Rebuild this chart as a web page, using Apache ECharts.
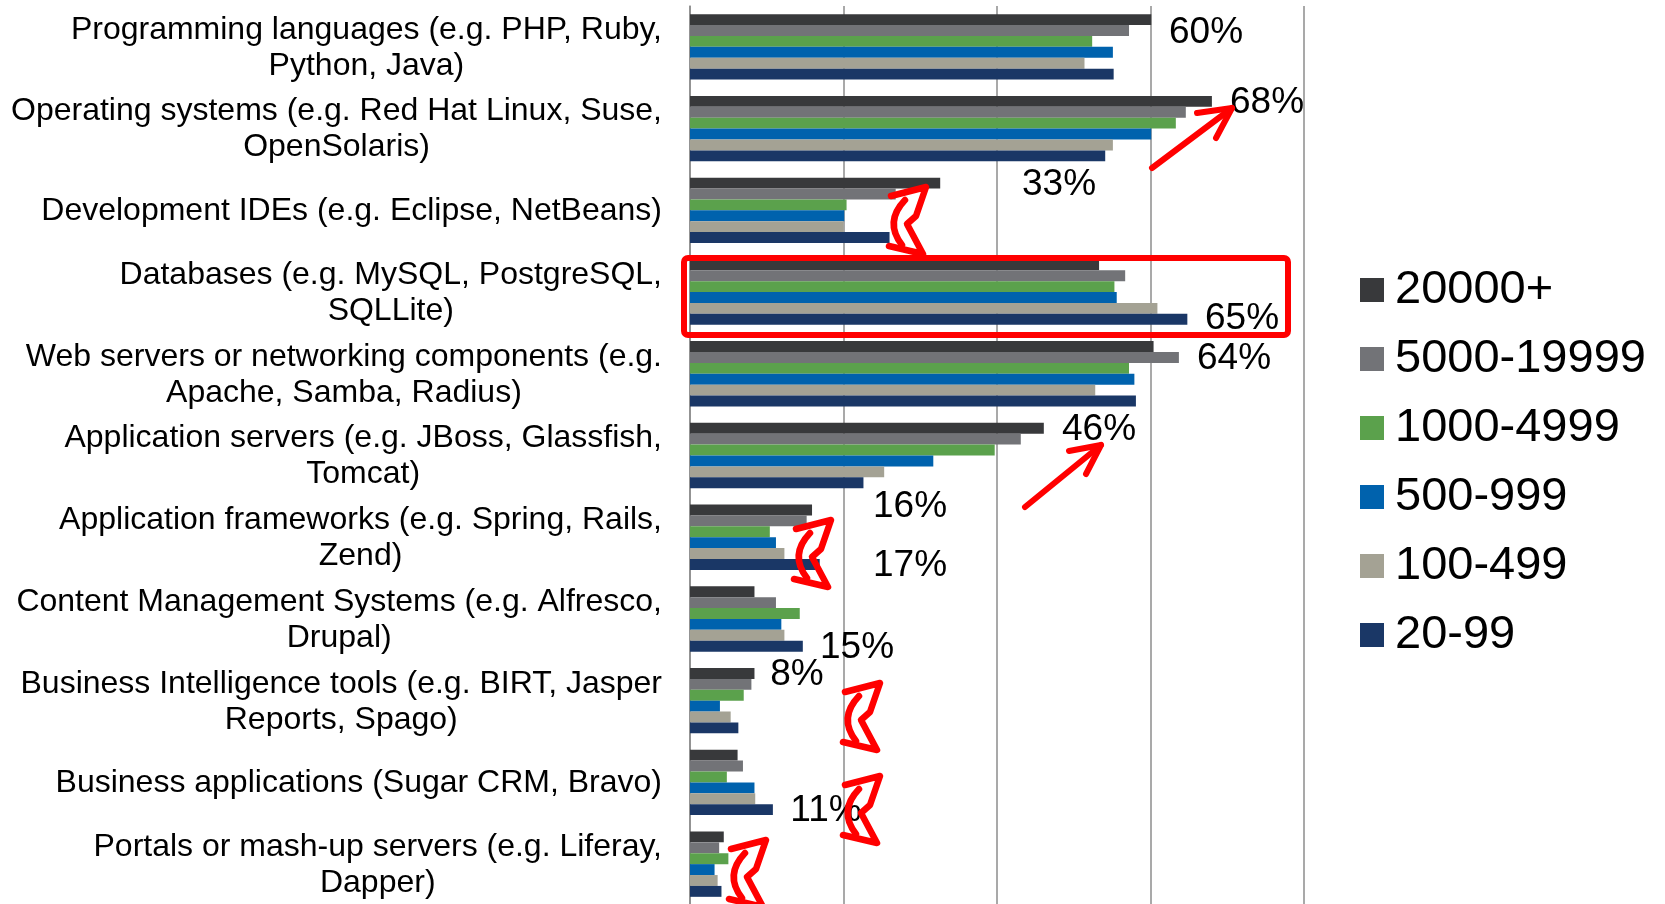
<!DOCTYPE html>
<html>
<head>
<meta charset="utf-8">
<script src="https://cdn.jsdelivr.net/npm/echarts@6/dist/echarts.min.js"></script>
<style>
  html, body { margin: 0; padding: 0; background: #fff; }
  #chart { width: 1665px; height: 904px; }
</style>
</head>
<body>
<div id="chart"></div>
<script>
// categories, top to bottom
const categories = [
  'Programming languages (e.g. PHP, Ruby,\nPython, Java)',
  'Operating systems (e.g. Red Hat Linux, Suse,\nOpenSolaris)',
  'Development IDEs (e.g. Eclipse, NetBeans)',
  'Databases (e.g. MySQL, PostgreSQL,\nSQLLite)',
  'Web servers or networking components (e.g.\nApache, Samba, Radius)',
  'Application servers (e.g. JBoss, Glassfish,\nTomcat)',
  'Application frameworks (e.g. Spring, Rails,\nZend)',
  'Content Management Systems (e.g. Alfresco,\nDrupal)',
  'Business Intelligence tools (e.g. BIRT, Jasper\nReports, Spago)',
  'Business applications (Sugar CRM, Bravo)',
  'Portals or mash-up servers (e.g. Liferay,\nDapper)'
]

const seriesNames = ['20000+', '5000-19999', '1000-4999', '500-999', '100-499', '20-99']
const seriesColors = ['#38393b', '#727377', '#5ba14c', '#0062ad', '#a4a294', '#1a3766']

// percent of respondents, per company size
const size20000 = [60.1, 68.0, 32.6, 53.3, 60.4, 46.1, 15.9, 8.4, 8.4, 6.2, 4.4]
const size5000 = [57.2, 64.6, 26.8, 56.7, 63.7, 43.1, 15.2, 11.2, 8.0, 6.9, 3.8]
const size1000 = [52.4, 63.3, 20.4, 55.3, 57.2, 39.7, 10.4, 14.3, 7.0, 4.8, 5.0]
const size500 = [55.1, 60.1, 20.1, 55.6, 57.9, 31.7, 11.2, 11.9, 3.9, 8.4, 3.2]
const size100 = [51.4, 55.1, 20.0, 60.9, 52.8, 25.3, 12.3, 12.3, 5.3, 8.5, 3.6]
const size20 = [55.2, 54.1, 26.0, 64.8, 58.1, 22.6, 16.9, 14.7, 6.3, 10.8, 4.1]
const seriesValues = [size20000, size5000, size1000, size500, size100, size20]

// hand-drawn callouts on the slide
const noteLabels = ['60%', '68%', '33%', '65%', '64%', '46%', '16%', '17%', '15%', '8%', '11%']
const notePos = [[1206, 33], [1267, 103], [1059, 185], [1242, 319], [1234, 359], [1099, 430],
  [910, 507], [910, 566], [857, 648], [797, 675], [826, 811]]
const curlyPos = [[876, 174], [781, 507], [830, 670], [830, 763], [716, 827]]
const RED = '#ff0000'
const FONT = '"Liberation Sans", Arial, sans-serif'

function straightArrow(tail, tip, armA, armB) {
  const style = { stroke: RED, lineWidth: 6, lineCap: 'round', lineJoin: 'round', fill: null }
  return [
    { type: 'line', z: 100, shape: { x1: tail[0], y1: tail[1], x2: tip[0], y2: tip[1] }, style },
    { type: 'polyline', z: 100, shape: { points: [armA, tip, armB] }, style }
  ]
}

function curlyArrow(pos) {
  const style = { stroke: RED, lineWidth: 6.5, lineCap: 'round', lineJoin: 'round', fill: null }
  return {
    type: 'group', x: pos[0], y: pos[1], z: 100,
    children: [
      { type: 'polyline', z: 100, shape: { points: [[15, 22], [50, 13], [40, 42], [31, 50], [47, 80], [13, 72]] }, style },
      { type: 'bezierCurve', z: 100, shape: { x1: 29, y1: 26, cpx1: 8, cpy1: 48, x2: 26, y2: 71 }, style }
    ]
  }
}

function buildGraphics() {
  const items = []
  noteLabels.forEach((t, i) => {
    items.push({
      type: 'text', z: 100, x: notePos[i][0], y: notePos[i][1],
      style: { text: t, font: '37px ' + FONT, fill: '#000', align: 'center', verticalAlign: 'middle' }
    })
  })
  items.push({
    type: 'rect', z: 101,
    shape: { x: 684, y: 258, width: 604, height: 77, r: 4 },
    style: { fill: null, stroke: RED, lineWidth: 6 }
  })
  items.push(...straightArrow([1152, 168], [1232, 108], [1197, 113], [1216, 138]))
  items.push(...straightArrow([1025, 507], [1101, 445], [1069, 451], [1086, 474]))
  curlyPos.forEach(p => items.push(curlyArrow(p)))
  return items
}

const chart = echarts.init(document.getElementById('chart'))

chart.setOption({
  animation: false,
  backgroundColor: '#fff',
  grid: { left: 690, top: 6, width: 614, height: 899, containLabel: false, outerBoundsMode: 'none' },
  legend: {
    orient: 'vertical',
    left: 1360,
    top: 262,
    padding: 0,
    icon: 'rect',
    itemWidth: 24,
    itemHeight: 24,
    itemGap: 13,
    selectedMode: false,
    textStyle: { fontSize: 47, lineHeight: 56, color: '#000', fontFamily: FONT, padding: [0, 0, 0, 6] },
    data: seriesNames
  },
  xAxis: {
    type: 'value',
    min: 0,
    max: 80,
    interval: 20,
    axisLabel: { show: false },
    axisLine: { show: false },
    axisTick: { show: false },
    splitLine: { show: true, lineStyle: { color: '#8c8c8c', width: 1.5 } }
  },
  yAxis: {
    type: 'category',
    inverse: true,
    data: categories,
    axisLine: { show: true, lineStyle: { color: '#8c8c8c', width: 1.5 } },
    axisTick: { show: false },
    axisLabel: {
      interval: 0,
      margin: 28,
      align: 'right',
      formatter: v => v.split('\n').map(l => '{c|' + l + '}').join('\n'),
      rich: {
        c: { align: 'center', fontSize: 32, lineHeight: 36, color: '#000', fontFamily: FONT, padding: [2, 0, 0, 0] }
      }
    }
  },
  series: seriesNames.map((name, i) => ({
    name,
    type: 'bar',
    data: seriesValues[i],
    barGap: '0%',
    barCategoryGap: '20%',
    itemStyle: { color: seriesColors[i] }
  })),
  graphic: buildGraphics()
})
</script>
</body>
</html>
